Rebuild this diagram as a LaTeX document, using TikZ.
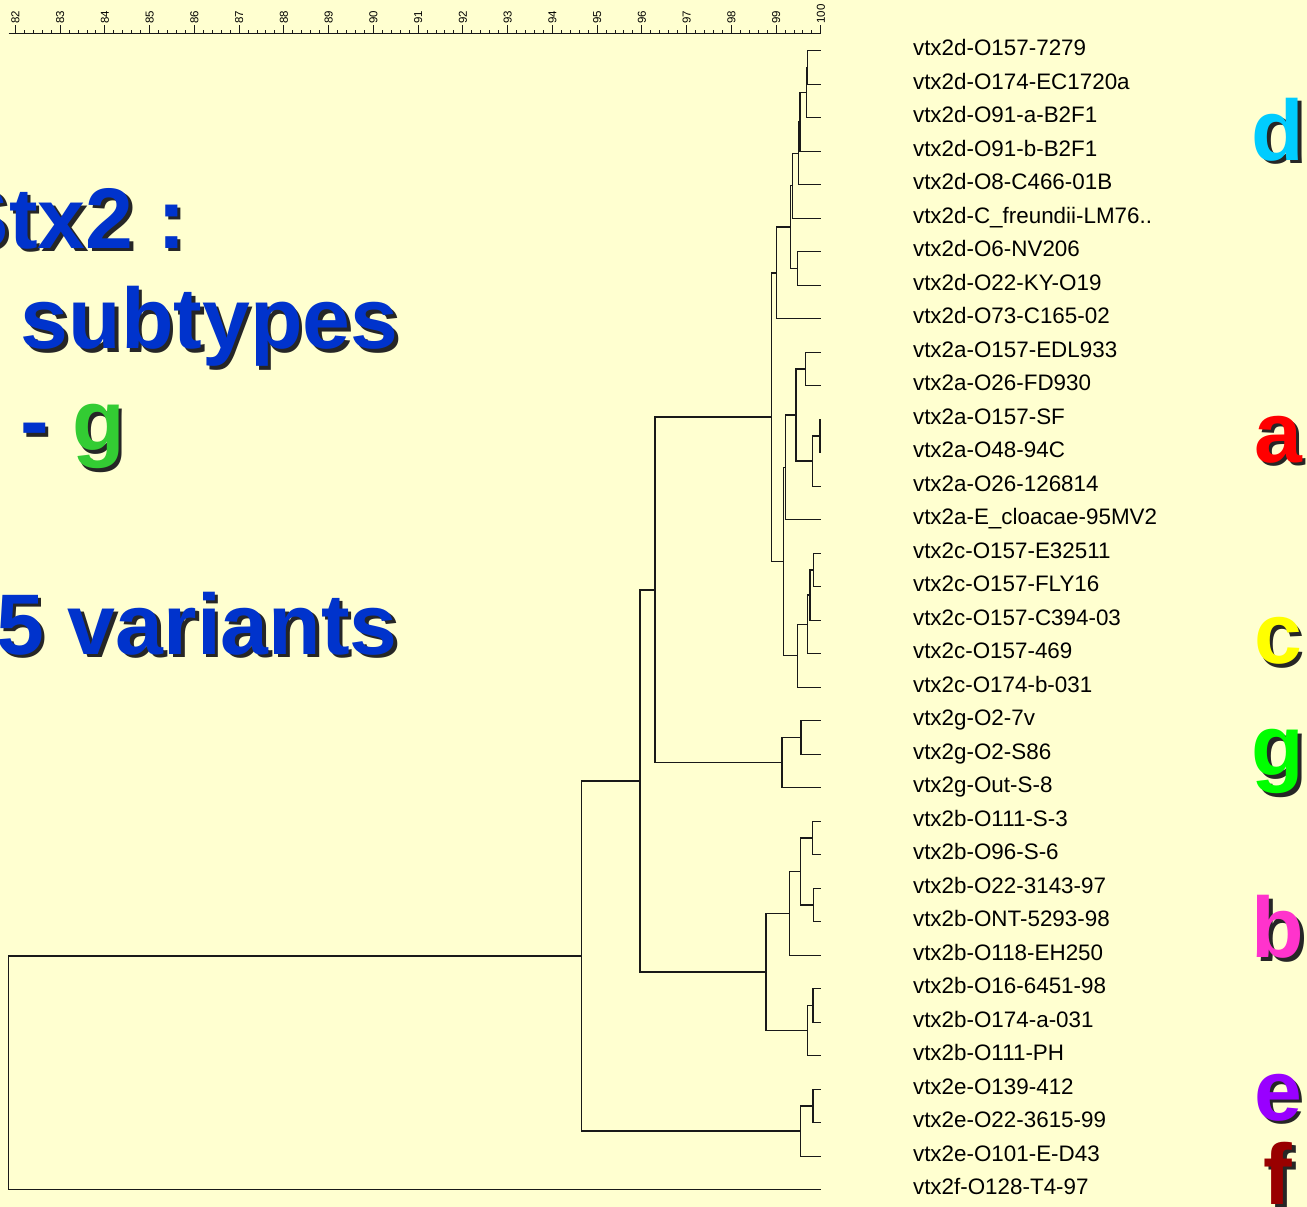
\documentclass[tikz,border=0pt]{standalone}
\usepackage{fontspec}
\setmainfont{Liberation Sans}
\usepackage{xcolor}
\usetikzlibrary{positioning}

\definecolor{slidebg}{RGB}{255,255,208}
\definecolor{slideblue}{RGB}{0,51,204}
\definecolor{slidegreen}{RGB}{51,204,51}
\definecolor{treeink}{RGB}{25,25,25}
\definecolor{typeD}{RGB}{0,204,255}
\definecolor{typeA}{RGB}{255,0,0}
\definecolor{typeC}{RGB}{255,255,0}
\definecolor{typeG}{RGB}{0,255,0}
\definecolor{typeB}{RGB}{255,51,204}
\definecolor{typeE}{RGB}{153,0,255}
\definecolor{typeF}{RGB}{153,0,0}

% slide text with a black drop shadow
\newcommand{\dropped}[2]{\rlap{\hspace{3.5pt}\raisebox{-3.5pt}{\color{black!85}#1}}#2}

\begin{document}
\begin{tikzpicture}[x=44.75pt, y=-33.5pt,
  branch/.style={draw=treeink, line width=1.4pt},
  rulerline/.style={draw=treeink, line width=0.9pt},
  ticklab/.style={rotate=90, anchor=west, inner sep=1pt, font=\fontsize{11.5}{13}\selectfont},
  leaflab/.style={inner sep=0pt, text height=15pt, text depth=5pt, font=\fontsize{22.4}{26}\selectfont},
  bigtxt/.style={inner sep=0pt, anchor=base west, font=\fontsize{86}{90}\selectfont\bfseries, text=slideblue}]

  % slide
  \coordinate (pgTL) at (81.658,-1.5134);
  \coordinate (pgBR) at (110.865,34.516);
  \useasboundingbox (pgTL) rectangle (pgBR);
  \fill[slidebg] (pgTL) rectangle (pgBR);
  \clip (pgTL) rectangle (pgBR);

  % similarity scale
  \coordinate (rul0) at (81.852,-0.5075);
  \coordinate (rul1) at (100,-0.5075);
  \draw[rulerline] (rul0) -- (rul1);
  \foreach \t in {82,82.2,...,100}
    \draw[rulerline] (\t,-0.5075) -- ++(0,3.5pt);
  \foreach \t in {82,...,100}
    \draw[rulerline] (\t,-0.5075) -- ++(0,8.5pt) node[ticklab] (tk\t) {\t};

  % leaves
  \foreach \lab [count=\i from 0] in {vtx2d-O157-7279, vtx2d-O174-EC1720a,
      vtx2d-O91-a-B2F1, vtx2d-O91-b-B2F1, vtx2d-O8-C466-01B,
      vtx2d-C\_freundii-LM76.., vtx2d-O6-NV206, vtx2d-O22-KY-O19,
      vtx2d-O73-C165-02, vtx2a-O157-EDL933, vtx2a-O26-FD930,
      vtx2a-O157-SF, vtx2a-O48-94C, vtx2a-O26-126814,
      vtx2a-E\_cloacae-95MV2, vtx2c-O157-E32511, vtx2c-O157-FLY16,
      vtx2c-O157-C394-03, vtx2c-O157-469, vtx2c-O174-b-031,
      vtx2g-O2-7v, vtx2g-O2-S86, vtx2g-Out-S-8, vtx2b-O111-S-3,
      vtx2b-O96-S-6, vtx2b-O22-3143-97, vtx2b-ONT-5293-98,
      vtx2b-O118-EH250, vtx2b-O16-6451-98, vtx2b-O174-a-031,
      vtx2b-O111-PH, vtx2e-O139-412, vtx2e-O22-3615-99,
      vtx2e-O101-E-D43, vtx2f-O128-T4-97} {
    \coordinate (l\i) at (100,\i);
    \node[leaflab, right=92pt of l\i] (lb\i) {\lab};
  }

  % joins: (similarity, row)
  \coordinate (d12) at (99.707,0.5);
  \coordinate (d123) at (99.685,1.25);
  \coordinate (d1234) at (99.535,2.125);
  \coordinate (d5) at (99.506,3.0625);
  \coordinate (d6) at (99.372,4.031);
  \coordinate (d78) at (99.475,6.5);
  \coordinate (d8) at (99.327,5.266);
  \coordinate (dAll) at (99.014,6.633);
  \coordinate (a12) at (99.663,9.5);
  \coordinate (a34) at (99.982,11.5);
  \coordinate (a345) at (99.810,12.25);
  \coordinate (aIn) at (99.446,10.875);
  \coordinate (aAll) at (99.216,12.4375);
  \coordinate (c12) at (99.841,15.5);
  \coordinate (c123) at (99.759,16.25);
  \coordinate (c1234) at (99.707,17.125);
  \coordinate (cAll) at (99.475,18.0625);
  \coordinate (ac) at (99.162,15.25);
  \coordinate (dac) at (98.894,10.94);
  \coordinate (g12) at (99.557,20.5);
  \coordinate (gAll) at (99.133,21.25);
  \coordinate (dacg) at (96.295,16.095);
  \coordinate (b12) at (99.819,23.5);
  \coordinate (b34) at (99.841,25.5);
  \coordinate (b1234) at (99.543,24.5);
  \coordinate (b5) at (99.296,25.75);
  \coordinate (b67) at (99.826,28.5);
  \coordinate (b678) at (99.707,29.25);
  \coordinate (bAll) at (98.775,27.5);
  \coordinate (dacgb) at (95.960,21.80);
  \coordinate (e12) at (99.826,31.5);
  \coordinate (eAll) at (99.543,32.25);
  \coordinate (inner) at (94.646,27.025);
  \coordinate (root) at (81.852,30.51);

  \foreach \p/\c in {d12/l0, d12/l1, d123/d12, d123/l2, d1234/d123, d1234/l3,
      d5/d1234, d5/l4, d6/d5, d6/l5, d78/l6, d78/l7, d8/d6, d8/d78,
      dAll/d8, dAll/l8,
      a12/l9, a12/l10, a34/l11, a34/l12, a345/a34, a345/l13,
      aIn/a12, aIn/a345, aAll/aIn, aAll/l14,
      c12/l15, c12/l16, c123/c12, c123/l17, c1234/c123, c1234/l18,
      cAll/c1234, cAll/l19, ac/aAll, ac/cAll, dac/dAll, dac/ac,
      g12/l20, g12/l21, gAll/g12, gAll/l22, dacg/dac, dacg/gAll,
      b12/l23, b12/l24, b34/l25, b34/l26, b1234/b12, b1234/b34,
      b5/b1234, b5/l27, b67/l28, b67/l29, b678/b67, b678/l30,
      bAll/b5, bAll/b678, dacgb/dacg, dacgb/bAll,
      e12/l31, e12/l32, eAll/e12, eAll/l33,
      inner/dacgb, inner/eAll, root/inner, root/l34}
    \draw[branch] (\p) |- (\c);

  % slide text
  \node[bigtxt] (ttl) at (80.577,5.89) {\dropped{Stx2 :}{Stx2 :}};
  \node[bigtxt] (sub) at (82.12,8.904) {\dropped{subtypes}{subtypes}};
  \node[bigtxt] (rng) at (82.10,11.949) {\dropped{- g}{- \textcolor{slidegreen}{g}}};
  \node[bigtxt] (var) at (81.57,18.009) {\dropped{5 variants}{5 variants}};

  % subtype letters
  \foreach \nm/\r/\col in {d/3.263/typeD, a/12.278/typeA, c/18.3/typeC,
      g/21.65/typeG, b/27.08/typeB, e/31.92/typeE, f/34.43/typeF}
    \node[bigtxt, anchor=base, text=\col] (sub\nm) at (110.217,\r) {\dropped{\nm}{\nm}};
\end{tikzpicture}
\end{document}
